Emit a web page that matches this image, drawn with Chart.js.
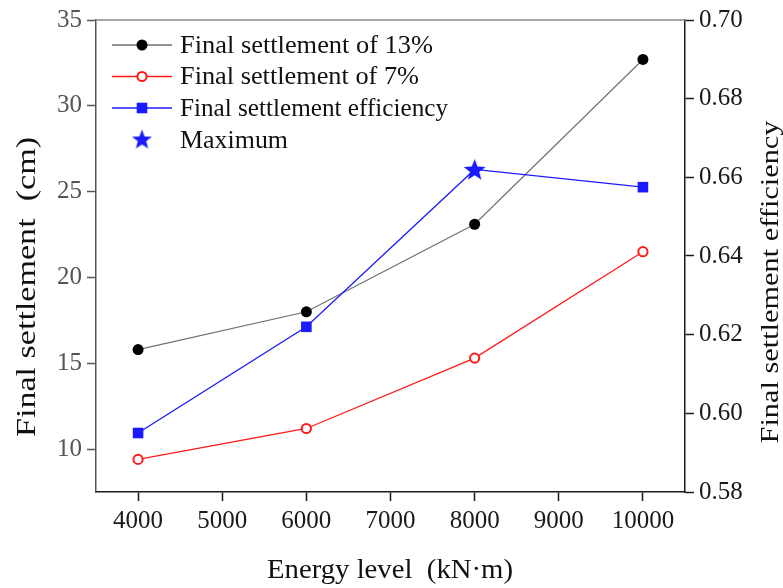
<!DOCTYPE html>
<html>
<head>
<meta charset="utf-8">
<title>Final settlement vs energy level</title>
<script src="https://cdn.jsdelivr.net/npm/chart.js@4/dist/chart.umd.min.js"></script>
<style>
  html, body { margin: 0; padding: 0; background: #ffffff; }
  #wrap { width: 783px; height: 588px; }
</style>
</head>
<body>
<div id="wrap"><canvas id="c" width="783" height="588"></canvas></div>
<script>
// Tamping energy levels (kN·m)
const energyLevels = [4000, 6000, 8000, 10000];
// Final settlement (cm) for the two cases
const settlement13 = [15.8, 18.0, 23.1, 32.7];
const settlement7 = [9.4, 11.2, 15.3, 21.5];
// Final settlement efficiency (right axis)
const efficiency = [0.595, 0.622, 0.662, 0.6575];

// Tick labels for each axis
const xTicks = [4000, 5000, 6000, 7000, 8000, 9000, 10000];
const yLeftTicks = [10, 15, 20, 25, 30, 35];
const yRightTicks = [0.58, 0.60, 0.62, 0.64, 0.66, 0.68, 0.70];

const seriesNames = ['Final settlement of 13%', 'Final settlement of 7%', 'Final settlement efficiency', 'Maximum'];

const FONT = '"Liberation Serif", "Times New Roman", serif';
const GRAY_LINE = '#707070';
const RED = '#ff1a1a';
const BLUE = '#1a1aff';

// Peak of the efficiency curve, marked with a star instead of a square
const maxIdx = efficiency.indexOf(Math.max(...efficiency));

function toPoints(values) {
  return values.map((v, i) => ({ x: energyLevels[i], y: v }));
}

// Filled five-pointed star used as a point style
function makeStar(outer, color) {
  const inner = outer * 0.42;
  const size = Math.ceil(outer * 2 + 2);
  const cv = document.createElement('canvas');
  cv.width = size; cv.height = size;
  const g = cv.getContext('2d');
  g.fillStyle = color;
  g.beginPath();
  for (let k = 0; k < 10; k++) {
    const r = k % 2 === 0 ? outer : inner;
    const a = -Math.PI / 2 + k * Math.PI / 5;
    const px = size / 2 + r * Math.cos(a);
    const py = size / 2 + 1 + r * Math.sin(a);
    if (k === 0) g.moveTo(px, py); else g.lineTo(px, py);
  }
  g.closePath();
  g.fill();
  return cv;
}
const starBig = makeStar(11.5, BLUE);
const starLegend = makeStar(10.5, BLUE);

// Draw text stretched horizontally to a given length
function fitText(ctx, text, x, y, size, len, rot, color, align) {
  ctx.save();
  ctx.font = size + 'px ' + FONT;
  const w = ctx.measureText(text).width;
  ctx.translate(x, y);
  ctx.rotate(rot);
  ctx.scale(len / w, 1);
  ctx.textAlign = align || 'center';
  ctx.textBaseline = 'middle';
  ctx.fillStyle = color;
  ctx.fillText(text, 0, 0);
  ctx.restore();
}

const decorations = {
  id: 'decorations',
  afterDraw(chart) {
    const ctx = chart.ctx;
    const a = chart.chartArea;

    // top frame line
    ctx.save();
    ctx.strokeStyle = '#8a8a8a';
    ctx.lineWidth = 1.5;
    ctx.beginPath();
    ctx.moveTo(a.left - 0.75, a.top);
    ctx.lineTo(a.right + 0.75, a.top);
    ctx.stroke();
    ctx.restore();

    // axis titles
    fitText(ctx, 'Final settlement  (cm)', 28, 287, 28, 300, -Math.PI / 2, '#111');
    fitText(ctx, 'Final settlement efficiency', 771, 282, 26, 323, -Math.PI / 2, '#111');
    fitText(ctx, 'Energy level  (kN\u00B7m)', 390, 571, 27, 246, 0, '#111');

    // legend
    const lx0 = a.left + 16, lx1 = a.left + 76, mx = a.left + 46, tx = a.left + 84;
    const rowY = [a.top + 25, a.top + 56.5, a.top + 88, a.top + 120];
    const lineColors = [GRAY_LINE, RED, BLUE, null];
    const textLens = [253, 239, 268, 108];
    ctx.save();
    for (let i = 0; i < 4; i++) {
      const y = rowY[i];
      if (lineColors[i]) {
        ctx.strokeStyle = lineColors[i];
        ctx.lineWidth = 1.3;
        ctx.beginPath();
        ctx.moveTo(lx0, y);
        ctx.lineTo(lx1, y);
        ctx.stroke();
      }
      if (i === 0) {
        ctx.fillStyle = '#000';
        ctx.beginPath(); ctx.arc(mx, y, 5.5, 0, Math.PI * 2); ctx.fill();
      } else if (i === 1) {
        ctx.fillStyle = '#fff';
        ctx.strokeStyle = RED;
        ctx.lineWidth = 2;
        ctx.beginPath(); ctx.arc(mx, y, 4.6, 0, Math.PI * 2); ctx.fill(); ctx.stroke();
      } else if (i === 2) {
        ctx.fillStyle = BLUE;
        ctx.fillRect(mx - 5.3, y - 5.3, 10.6, 10.6);
      } else {
        ctx.drawImage(starLegend, mx - starLegend.width / 2, y - starLegend.height / 2 - 1);
      }
      fitText(ctx, seriesNames[i], tx, y + 1, 25, textLens[i], 0, '#111', 'left');
    }
    ctx.restore();
  }
};

const tickFont = { family: FONT, size: 25 };

new Chart(document.getElementById('c'), {
  type: 'line',
  data: {
    datasets: [
      {
        label: seriesNames[3],
        data: [{ x: energyLevels[maxIdx], y: efficiency[maxIdx] }],
        yAxisID: 'y1',
        showLine: false,
        pointStyle: starBig,
        order: 0
      },
      {
        label: seriesNames[0],
        data: toPoints(settlement13),
        yAxisID: 'y',
        borderColor: GRAY_LINE,
        borderWidth: 1.2,
        pointStyle: 'circle',
        pointRadius: 5.5,
        pointBackgroundColor: '#000',
        pointBorderColor: '#000',
        pointBorderWidth: 0,
        order: 2
      },
      {
        label: seriesNames[1],
        data: toPoints(settlement7),
        yAxisID: 'y',
        borderColor: RED,
        borderWidth: 1.3,
        pointStyle: 'circle',
        pointRadius: 4.6,
        pointBackgroundColor: '#fff',
        pointBorderColor: RED,
        pointBorderWidth: 2,
        order: 3
      },
      {
        label: seriesNames[2],
        data: toPoints(efficiency),
        yAxisID: 'y1',
        borderColor: BLUE,
        borderWidth: 1.3,
        pointStyle: 'rect',
        pointRadius: efficiency.map((v, i) => (i === maxIdx ? 0 : 7.5)),
        pointBackgroundColor: BLUE,
        pointBorderColor: BLUE,
        pointBorderWidth: 0,
        order: 1
      }
    ]
  },
  options: {
    responsive: false,
    animation: false,
    devicePixelRatio: 1,
    layout: { padding: { top: 18, left: 0, right: 0, bottom: 0 } },
    plugins: { legend: { display: false }, tooltip: { enabled: false } },
    elements: { line: { tension: 0, fill: false } },
    scales: {
      x: {
        type: 'linear',
        position: 'bottom',
        min: 3500,
        max: 10500,
        afterBuildTicks(axis) { axis.ticks = xTicks.map(v => ({ value: v })); },
        afterFit(axis) { axis.height = 96; },
        ticks: { font: tickFont, color: '#1a1a1a', padding: 5, maxRotation: 0, autoSkip: false, callback: v => String(v) },
        grid: { drawOnChartArea: false, drawTicks: true, tickLength: 9, tickColor: '#1a1a1a', tickWidth: 1.5 },
        border: { display: true, color: '#1a1a1a', width: 1.5 },
        title: { display: false }
      },
      y: {
        type: 'linear',
        position: 'left',
        min: 7.5,
        max: 35,
        afterBuildTicks(axis) { axis.ticks = yLeftTicks.map(v => ({ value: v })); },
        afterFit(axis) { axis.width = 96; },
        ticks: { font: tickFont, color: '#555555', padding: 5, callback: v => String(v) },
        grid: { drawOnChartArea: false, drawTicks: true, tickLength: 9, tickColor: '#555555', tickWidth: 1.5 },
        border: { display: true, color: '#555555', width: 1.5 },
        title: { display: false }
      },
      y1: {
        type: 'linear',
        position: 'right',
        min: 0.58,
        max: 0.70,
        afterBuildTicks(axis) { axis.ticks = yRightTicks.map(v => ({ value: v })); },
        afterFit(axis) { axis.width = 98; },
        ticks: { font: tickFont, color: '#1a1a1a', padding: 5, callback: v => v.toFixed(2) },
        grid: { drawOnChartArea: false, drawTicks: true, tickLength: 9, tickColor: '#1a1a1a', tickWidth: 1.5 },
        border: { display: true, color: '#1a1a1a', width: 1.5 },
        title: { display: false }
      }
    }
  },
  plugins: [decorations]
});
</script>
</body>
</html>
